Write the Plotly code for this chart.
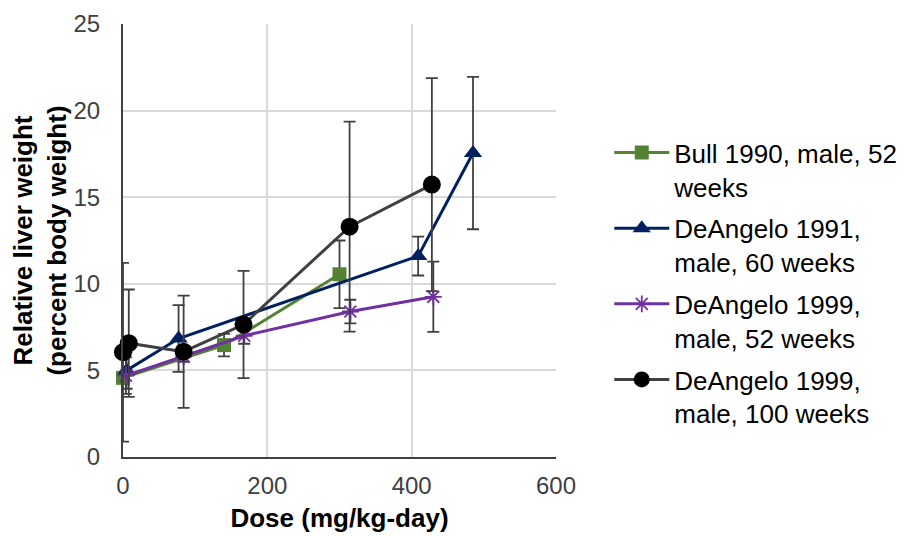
import plotly.graph_objects as go

# Bull 1990, male, 52 weeks
bull_x = [0, 140, 300]
bull_y = [4.57, 6.46, 10.55]
bull_err = [0.34, 0.65, 1.95]

# DeAngelo 1991, male, 60 weeks
d91_x = [5, 77, 409, 485]
d91_y = [5.0, 6.84, 11.6, 17.55]
d91_err = [1.06, 1.93, 1.12, 4.4]

# DeAngelo 1999, male, 52 weeks
d99a_x = [4, 84, 168, 315, 430]
d99a_y = [4.7, 5.8, 7.0, 8.4, 9.25]
d99a_err = [1.05, 0.3, 0.46, 0.68, 2.03]

# DeAngelo 1999, male, 100 weeks
d99b_x = [0, 8, 84, 167, 314, 428]
d99b_y = [6.05, 6.57, 6.08, 7.65, 13.3, 15.73]
d99b_err = [5.16, 3.1, 3.24, 3.1, 6.06, 6.15]

names = ["Bull 1990, male, 52<br>weeks", "DeAngelo 1991,<br>male, 60 weeks",
         "DeAngelo 1999,<br>male, 52 weeks", "DeAngelo 1999,<br>male, 100 weeks"]

x_ticks = [0, 200, 400, 600]
y_ticks = [0, 5, 10, 15, 20, 25]

ERR_COLOR = "#404040"
FONT = "Liberation Sans, Arial, sans-serif"

fig = go.Figure()

def add(x, y, err, name, color, symbol, size, mcolor=None, mline=None, mlw=0):
    fig.add_trace(go.Scatter(
        x=x, y=y, name=name, mode="lines+markers", cliponaxis=False,
        line=dict(color=color, width=3),
        marker=dict(symbol=symbol, size=size, color=mcolor or color,
                    line=dict(color=mline or (mcolor or color), width=mlw)),
        error_y=dict(type="data", array=err, visible=True, color=ERR_COLOR,
                     thickness=1.8, width=6),
        legendgroup=name,
    ))

add(bull_x, bull_y, bull_err, names[0], "#548235", "square", 14)
add(d91_x, d91_y, d91_err, names[1], "#002060", "triangle-up", 16)
add(d99a_x, d99a_y, d99a_err, names[2], "#7030A0", "asterisk-open", 14, mlw=1.8)
add(d99b_x, d99b_y, d99b_err, names[3], "#404040", "circle", 18, mcolor="#000000")

fig.update_layout(
    width=896, height=528,
    margin=dict(l=115, r=348, t=16, b=79, autoexpand=False),
    paper_bgcolor="white", plot_bgcolor="white",
    font=dict(family=FONT, color="#000000"),
    showlegend=True,
    legend=dict(x=1.123, y=0.757, xanchor="left", yanchor="top",
                font=dict(size=26, family=FONT, color="#000000"),
                valign="top", itemwidth=55, tracegroupgap=5,
                traceorder="grouped", bgcolor="rgba(0,0,0,0)"),
)
fig.update_xaxes(
    range=[0, 600], tickvals=x_ticks, ticktext=[str(v) for v in x_ticks],
    showgrid=True, gridcolor="#d9d9d9", gridwidth=2, automargin=False,
    showline=True, linecolor="#404040", linewidth=2, zeroline=False,
    ticks="", ticklabelstandoff=6,
    tickfont=dict(size=24, color="#404040", family=FONT),
    title=dict(text="<b>Dose (mg/kg-day)</b>", font=dict(size=26, color="#000000", family=FONT), standoff=11),
)
fig.update_yaxes(
    range=[0, 25], tickvals=y_ticks, ticktext=[str(v) for v in y_ticks],
    showgrid=True, gridcolor="#d9d9d9", gridwidth=2, automargin=False,
    showline=True, linecolor="#404040", linewidth=2, zeroline=False,
    ticks="", ticklabelstandoff=16,
    tickfont=dict(size=24, color="#404040", family=FONT),
    title=dict(text="<b>Relative liver weight<br>(percent body weight)</b>",
               font=dict(size=26, color="#000000", family=FONT), standoff=16),
)

fig.write_html("out.html")
